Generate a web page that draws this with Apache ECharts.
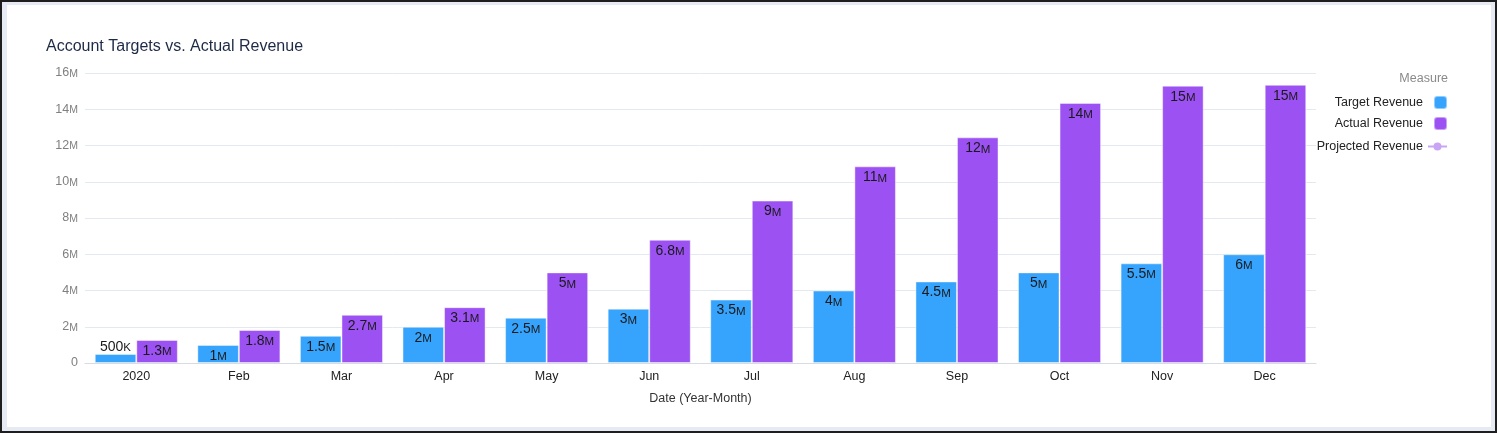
<!DOCTYPE html>
<html>
<head>
<meta charset="utf-8">
<title>Account Targets vs. Actual Revenue</title>
<script src="https://cdn.jsdelivr.net/npm/echarts@6/dist/echarts.min.js"></script>
<style>
  html, body { margin: 0; padding: 0; background: #fff; }
  #chart { position: absolute; left: 0; top: 0; width: 1497px; height: 433px; }
  #frame {
    position: absolute; left: 0; top: 0; width: 1497px; height: 433px;
    box-sizing: border-box; border: 2px solid #1e1e1e; pointer-events: none;
  }
  #frame div {
    position: absolute; left: 0; top: 0; right: 0; bottom: 0;
    border-style: solid; border-color: #e6ebf3; border-width: 3px 4px 4px 5px;
  }
</style>
</head>
<body>
<div id="chart"></div>
<div id="frame"><div></div></div>
<script>
// Account Targets vs. Actual Revenue

var months = ['2020', 'Feb', 'Mar', 'Apr', 'May', 'Jun', 'Jul', 'Aug', 'Sep', 'Oct', 'Nov', 'Dec'];
var targetRevenue = [500000, 1000000, 1500000, 2000000, 2500000, 3000000, 3500000, 4000000, 4500000, 5000000, 5500000, 6000000];
var actualRevenue = [1270000, 1820000, 2660000, 3080000, 5000000, 6800000, 8960000, 10850000, 12450000, 14350000, 15300000, 15350000];
var projectedRevenue = [];

var FONT = "'Helvetica Neue', Helvetica, Arial, sans-serif";

// 500K / 1.3M with a small-cap suffix
function shortNum(v) {
    if (v === 0) return '0';
    if (v >= 1000000) return Number((v / 1000000).toPrecision(2)) + '{u|M}';
    return Number((v / 1000).toPrecision(2)) + '{u|K}';
}

var chart = echarts.init(document.getElementById('chart'));

var barLabel = {
    show: true,
    position: 'insideTop',
    distance: 4,
    color: '#1a1a1a',
    fontFamily: FONT,
    fontSize: 14,
    formatter: function (p) { return shortNum(p.value); },
    rich: { u: { fontSize: 11.5, fontFamily: FONT, color: '#1a1a1a', padding: [2, 0, 0, 0] } }
};

function barData(arr) {
    return arr.map(function (v) {
        // short bars get their label on top
        return v < 800000 ? { value: v, label: { position: 'top', distance: 0 } } : v;
    });
}

var legendText = { color: '#222', fontSize: 12.5, fontFamily: FONT, padding: [0, 6, 0, 0] };

option = {
    animation: false,
    textStyle: { fontFamily: FONT },
    title: [
        {
            text: 'Account Targets vs. Actual Revenue',
            left: 41,
            top: 34,
            textStyle: { color: '#1d2a45', fontSize: 16, fontWeight: 'normal', fontFamily: FONT }
        },
        {
            text: 'Measure',
            right: 44,
            top: 67,
            textStyle: { color: '#8a8a8a', fontSize: 12.5, fontWeight: 'normal', fontFamily: FONT }
        }
    ],
    color: ['#36a3fd', '#9c51f2', '#c9a4f5'],
    legend: [
        {
            data: ['Target Revenue', 'Actual Revenue'],
            orient: 'vertical',
            right: 44,
            top: 90,
            align: 'right',
            itemWidth: 13,
            itemHeight: 13,
            itemGap: 6,
            textStyle: legendText
        },
        {
            data: ['Projected Revenue'],
            orient: 'vertical',
            right: 44,
            top: 135,
            align: 'right',
            itemWidth: 19,
            itemHeight: 10,
            textStyle: { color: '#222', fontSize: 12.5, fontFamily: FONT, padding: [0, 0, 0, 0] }
        }
    ],
    grid: {
        left: 85,
        right: 181,
        top: 73,
        bottom: 70
    },
    xAxis: [
        {
            type: 'category',
            data: months,
            name: 'Date (Year-Month)',
            nameLocation: 'middle',
            nameGap: 29,
            nameTextStyle: { color: '#333', fontSize: 12.5, fontFamily: FONT },
            axisLine: { lineStyle: { color: '#d6dbe4' } },
            axisTick: { alignWithLabel: true, length: 3, lineStyle: { color: '#d6dbe4' } },
            axisLabel: { color: '#222', fontSize: 12.5, margin: 7, fontFamily: FONT }
        }
    ],
    yAxis: [
        {
            type: 'value',
            min: 0,
            max: 16000000,
            interval: 2000000,
            axisLine: { show: false },
            axisTick: { show: false },
            splitLine: { lineStyle: { color: '#e4e9f1' } },
            axisLabel: {
                color: '#808080',
                fontSize: 12.5,
                margin: 7,
                fontFamily: FONT,
                formatter: function (v) { return shortNum(v); },
                rich: { u: { fontSize: 10.5, color: '#808080', fontFamily: FONT, padding: [2, 0, 0, 0] } }
            }
        }
    ],
    series: [
        {
            name: 'Target Revenue',
            type: 'bar',
            barGap: '0%',
            barCategoryGap: '19%',
            data: barData(targetRevenue),
            itemStyle: { borderColor: 'rgba(255,255,255,0.45)', borderWidth: 1 },
            label: barLabel
        },
        {
            name: 'Actual Revenue',
            type: 'bar',
            data: barData(actualRevenue),
            itemStyle: { borderColor: 'rgba(255,255,255,0.45)', borderWidth: 1 },
            label: barLabel
        },
        {
            name: 'Projected Revenue',
            type: 'line',
            symbol: 'circle',
            symbolSize: 7,
            data: projectedRevenue,
            lineStyle: { width: 3 }
        }
    ]
};

chart.setOption(option);
window.onresize = function () {
    chart.resize();
};
</script>
</body>
</html>
